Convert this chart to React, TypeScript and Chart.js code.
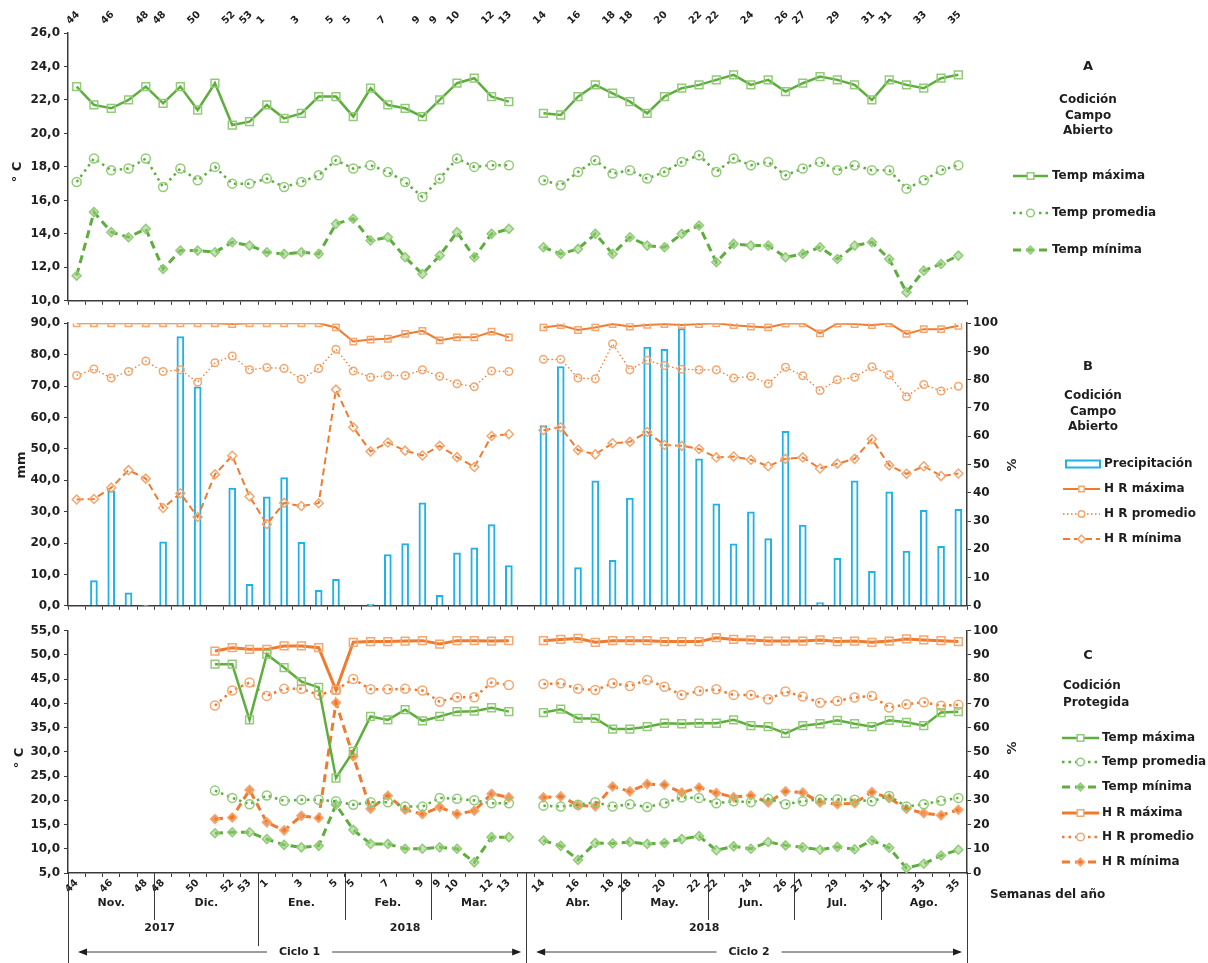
import { useEffect, useRef } from 'react';
import { Chart, registerables } from 'chart.js';

Chart.register(...registerables);

const FONT = "'DejaVu Sans', 'Liberation Sans', Arial, sans-serif";
const INK = '#1e1e1e';
const AXIS = '#3a3a3a';
const GREEN = '#5EAE3E';
const GREEN_MK = '#93CC78';
const ORANGE = '#EF7B2F';
const ORANGE_MK = '#F4A871';
const CYAN = '#1FB2E8';
const CLEAR = 'rgba(255,255,255,0)';

Chart.defaults.font.family = FONT;
Chart.defaults.color = INK;

const PAGE_W = 1208;
const PAGE_H = 963;
const PLOT_LEFT = 68;
const PLOT_RIGHT = 967;

// ---------- time axis ----------
// week number printed under each weekly record (blank = not printed)
const weekTicksCycle1 = ['44', '', '46', '', '48', '48', '', '50', '', '52', '53', '1', '', '3', '', '5', '5', '', '7', '', '9', '9', '10', '', '12', '13'];
const weekTicksCycle2 = ['14', '', '16', '', '18', '18', '', '20', '', '22', '22', '', '24', '', '26', '27', '', '29', '', '31', '31', '', '33', '', '35'];
const weekTicks = [...weekTicksCycle1, '', ...weekTicksCycle2];

// months as ranges of weekly records (index into weekTicks)
const months = [
  { name: 'Nov.', year: 2017, first: 0, last: 4 },
  { name: 'Dic.', year: 2017, first: 5, last: 10 },
  { name: 'Ene.', year: 2018, first: 11, last: 15 },
  { name: 'Feb.', year: 2018, first: 16, last: 20 },
  { name: 'Mar.', year: 2018, first: 21, last: 25 },
  { name: 'Abr.', year: 2018, first: 27, last: 31 },
  { name: 'May.', year: 2018, first: 32, last: 36 },
  { name: 'Jun.', year: 2018, first: 37, last: 41 },
  { name: 'Jul.', year: 2018, first: 42, last: 46 },
  { name: 'Ago.', year: 2018, first: 47, last: 51 },
];
const years = [
  { label: '2017', at: 4.8 },
  { label: '2018', at: 19 },
  { label: '2018', at: 36.3 },
];
const cycles = [
  { label: 'Ciclo 1', first: 0, last: 25 },
  { label: 'Ciclo 2', first: 27, last: 51 },
];

// ---------- A: open field temperature (°C) ----------
const openTmaxC1 = [22.8, 21.7, 21.5, 22.0, 22.8, 21.8, 22.8, 21.4, 23.0, 20.5, 20.7, 21.7, 20.9, 21.2, 22.2, 22.2, 21.0, 22.7, 21.7, 21.5, 21.0, 22.0, 23.0, 23.3, 22.2, 21.9];
const openTmaxC2 = [21.2, 21.1, 22.2, 22.9, 22.4, 21.9, 21.2, 22.2, 22.7, 22.9, 23.2, 23.5, 22.9, 23.2, 22.5, 23.0, 23.4, 23.2, 22.9, 22.0, 23.2, 22.9, 22.7, 23.3, 23.5];
const openTprmC1 = [17.1, 18.5, 17.8, 17.9, 18.5, 16.8, 17.9, 17.2, 18.0, 17.0, 17.0, 17.3, 16.8, 17.1, 17.5, 18.4, 17.9, 18.1, 17.7, 17.1, 16.2, 17.3, 18.5, 18.0, 18.1, 18.1];
const openTprmC2 = [17.2, 16.9, 17.7, 18.4, 17.6, 17.8, 17.3, 17.7, 18.3, 18.7, 17.7, 18.5, 18.1, 18.3, 17.5, 17.9, 18.3, 17.8, 18.1, 17.8, 17.8, 16.7, 17.2, 17.8, 18.1];
const openTminC1 = [11.5, 15.3, 14.1, 13.8, 14.3, 11.9, 13.0, 13.0, 12.9, 13.5, 13.3, 12.9, 12.8, 12.9, 12.8, 14.6, 14.9, 13.6, 13.8, 12.6, 11.6, 12.7, 14.1, 12.6, 14.0, 14.3];
const openTminC2 = [13.2, 12.8, 13.1, 14.0, 12.8, 13.8, 13.3, 13.2, 14.0, 14.5, 12.3, 13.4, 13.3, 13.3, 12.6, 12.8, 13.2, 12.5, 13.3, 13.5, 12.5, 10.5, 11.8, 12.2, 12.7];

// ---------- B: open field rain (mm) and relative humidity (%) ----------
const rainC1 = [0, 8.0, 36.6, 4.1, 0.2, 20.4, 85.7, 69.7, 0, 37.5, 6.8, 34.7, 40.8, 20.2, 4.9, 8.4, 0, 0.5, 16.3, 19.8, 32.8, 3.3, 16.9, 18.5, 25.9, 12.8];
const rainC2 = [57.4, 76.2, 12.2, 39.8, 14.5, 34.3, 82.4, 81.7, 88.3, 46.8, 32.5, 19.7, 29.9, 21.4, 55.6, 25.7, 1.0, 15.1, 39.8, 11.0, 36.3, 17.4, 30.4, 18.9, 30.7];
const openHRmaxC1 = [100, 100, 100, 100, 100, 100, 100, 100, 100, 99.7, 100, 100, 100, 100, 100, 98.5, 93.5, 94.2, 94.5, 96.2, 97.3, 93.9, 95.0, 95.0, 97.0, 95.0];
const openHRmaxC2 = [98.5, 99.3, 97.6, 98.5, 99.7, 98.8, 99.4, 99.7, 99.4, 99.7, 100, 99.3, 98.8, 98.5, 99.9, 100, 96.4, 99.9, 99.7, 99.3, 100, 96.2, 97.9, 97.9, 99.1];
const openHRprmC1 = [81.5, 83.8, 80.6, 82.9, 86.6, 82.9, 83.5, 79.1, 86.0, 88.4, 83.5, 84.3, 84.0, 80.2, 84.0, 90.8, 83.1, 80.9, 81.5, 81.5, 83.5, 81.2, 78.6, 77.5, 83.1, 82.9];
const openHRprmC2 = [87.2, 87.2, 80.6, 80.3, 92.7, 83.5, 86.9, 85.0, 83.7, 83.5, 83.5, 80.6, 81.2, 78.6, 84.4, 81.4, 76.2, 80.0, 80.9, 84.6, 81.7, 74.0, 78.3, 76.0, 77.7];
const openHRminC1 = [37.6, 37.8, 41.8, 48.0, 45.0, 34.6, 39.8, 31.4, 46.5, 53.1, 38.7, 28.9, 36.4, 35.3, 36.3, 76.5, 63.2, 54.6, 57.8, 54.9, 53.2, 56.6, 52.6, 49.1, 60.1, 60.7];
const openHRminC2 = [62.1, 63.2, 55.1, 53.6, 57.5, 58.0, 61.5, 56.9, 56.6, 55.5, 52.5, 52.8, 51.7, 49.4, 52.0, 52.5, 48.6, 50.3, 52.0, 59.0, 49.7, 46.7, 49.4, 45.9, 46.8];

// ---------- C: protected condition, temperature (°C) and relative humidity (%) ----------
const protTmaxC1 = [null, null, null, null, null, null, null, null, 48.1, 48.1, 36.6, 50.1, 47.4, 44.5, 43.3, 24.6, 30.1, 37.3, 36.6, 38.7, 36.4, 37.3, 38.3, 38.4, 39.1, 38.3];
const protTmaxC2 = [38.1, 38.8, 36.9, 36.9, 34.7, 34.7, 35.2, 35.9, 35.8, 35.9, 35.9, 36.6, 35.4, 35.2, 33.8, 35.4, 35.8, 36.5, 35.8, 35.2, 36.5, 36.1, 35.4, 38.1, 38.3];
const protTprmC1 = [null, null, null, null, null, null, null, null, 22.0, 20.5, 19.2, 21.0, 19.9, 20.1, 20.1, 19.8, 19.1, 19.6, 19.6, 18.7, 18.7, 20.5, 20.3, 20.0, 19.4, 19.4];
const protTprmC2 = [18.9, 18.7, 19.1, 19.6, 18.7, 19.2, 18.6, 19.4, 20.6, 20.5, 19.4, 19.8, 19.6, 20.3, 19.2, 19.8, 20.2, 20.2, 20.1, 19.8, 20.9, 18.7, 19.2, 19.9, 20.5];
const protTminC1 = [null, null, null, null, null, null, null, null, 13.2, 13.4, 13.4, 12.0, 10.8, 10.3, 10.6, 19.1, 13.9, 11.0, 11.0, 10.0, 10.0, 10.3, 10.0, 7.2, 12.4, 12.4];
const protTminC2 = [11.7, 10.6, 7.7, 11.2, 11.1, 11.4, 11.0, 11.2, 12.0, 12.6, 9.7, 10.5, 10.0, 11.4, 10.7, 10.3, 9.8, 10.4, 9.9, 11.7, 10.2, 6.0, 6.9, 8.6, 9.8];
const protHRmaxC1 = [null, null, null, null, null, null, null, null, 91.6, 93.0, 92.3, 92.3, 93.7, 93.7, 93.0, 75.5, 95.2, 95.5, 95.5, 95.7, 95.9, 94.5, 95.9, 95.9, 95.7, 95.9];
const protHRmaxC2 = [95.9, 96.4, 96.8, 95.2, 95.9, 95.9, 95.9, 95.5, 95.5, 95.5, 97.1, 96.4, 96.2, 95.7, 95.7, 95.7, 96.2, 95.5, 95.7, 95.2, 95.7, 96.6, 96.2, 95.9, 95.5];
const protHRprmC1 = [null, null, null, null, null, null, null, null, 69.1, 75.3, 78.6, 73.1, 76.0, 76.0, 73.5, 75.5, 80.1, 75.8, 75.8, 76.0, 75.3, 70.7, 72.5, 72.5, 78.6, 77.6];
const protHRprmC2 = [78.0, 78.3, 76.0, 75.5, 78.3, 77.2, 79.7, 76.9, 73.5, 75.1, 75.8, 73.5, 73.5, 71.7, 74.9, 72.8, 70.3, 71.0, 72.4, 73.1, 68.3, 69.6, 70.5, 69.0, 69.4];
const protHRminC1 = [null, null, null, null, null, null, null, null, 22.3, 22.9, 34.3, 20.9, 17.6, 23.6, 22.7, 70.3, 48.1, 26.5, 31.9, 26.1, 24.3, 27.2, 24.3, 25.7, 32.7, 31.2];
const protHRminC2 = [31.2, 31.6, 27.9, 27.5, 35.7, 33.7, 36.7, 36.4, 33.2, 35.3, 33.0, 31.3, 32.0, 29.1, 33.7, 33.2, 29.1, 28.4, 28.8, 33.4, 30.9, 26.5, 24.7, 23.8, 26.1];

// the two cycles are separated by one empty week slot
const joinCycles = (c1: (number | null)[], c2: (number | null)[]) => [...c1, null, ...c2];

// ---------- series styling ----------
type LineStyle = { color: string; mk: string; fill: string; width: number; dash: number[]; marker: string; r: number };

const tmaxStyle: LineStyle = { color: GREEN, mk: GREEN_MK, fill: CLEAR, width: 2.5, dash: [], marker: 'rect', r: 5.5 };
const tprmStyle: LineStyle = { color: GREEN, mk: GREEN_MK, fill: CLEAR, width: 2.5, dash: [2.5, 4], marker: 'circle', r: 4.5 };
const tminStyle: LineStyle = { color: GREEN, mk: GREEN_MK, fill: 'rgba(147,204,120,0.55)', width: 3, dash: [8, 5], marker: 'rectRot', r: 4.5 };
const hrmaxOpen: LineStyle = { color: ORANGE, mk: ORANGE_MK, fill: CLEAR, width: 2, dash: [], marker: 'rect', r: 4.5 };
const hrprmOpen: LineStyle = { color: ORANGE, mk: ORANGE_MK, fill: CLEAR, width: 1.3, dash: [1.5, 2.5], marker: 'circle', r: 3.8 };
const hrminOpen: LineStyle = { color: ORANGE, mk: ORANGE_MK, fill: CLEAR, width: 2, dash: [7, 4], marker: 'rectRot', r: 4.5 };
const hrmaxProt: LineStyle = { color: ORANGE, mk: ORANGE_MK, fill: CLEAR, width: 3, dash: [], marker: 'rect', r: 5.5 };
const hrprmProt: LineStyle = { color: ORANGE, mk: ORANGE_MK, fill: CLEAR, width: 2.5, dash: [2.5, 4], marker: 'circle', r: 4.5 };
const hrminProt: LineStyle = { color: ORANGE, mk: ORANGE_MK, fill: 'rgba(239,123,47,0.8)', width: 3, dash: [8, 5], marker: 'rectRot', r: 4.5 };

function lineSet(label: string, data: (number | null)[], yAxisID: string, s: LineStyle) {
  return {
    type: 'line',
    label,
    data,
    yAxisID,
    order: 0,
    borderColor: s.color,
    borderWidth: s.width,
    borderDash: s.dash,
    borderCapStyle: 'butt',
    pointStyle: s.marker,
    pointRadius: s.r,
    pointHoverRadius: s.r,
    pointBorderColor: s.mk,
    pointBackgroundColor: s.fill,
    pointBorderWidth: 1.5,
    tension: 0,
    spanGaps: false,
    fill: false,
  };
}

// ---------- scales ----------
const decimalComma = (v: number) => v.toFixed(1).replace('.', ',');
const plain = (v: number) => String(v);

function yScale(position: 'left' | 'right', min: number, max: number, step: number, fmt: (v: number) => string, width: number) {
  return {
    type: 'linear',
    position,
    min,
    max,
    ticks: {
      stepSize: step,
      font: { size: 12, weight: 'bold' },
      color: INK,
      padding: position === 'left' ? 4 : 2,
      callback: (v: any) => fmt(Number(v)),
    },
    grid: { display: true, drawOnChartArea: false, drawTicks: true, tickLength: 4, color: AXIS, lineWidth: 1 },
    border: { display: true, color: AXIS, width: 1.5 },
    afterFit: (s: any) => {
      s.width = width;
    },
  };
}

function xScale(height: number, withLabels: boolean) {
  return {
    type: 'category',
    position: 'bottom',
    offset: true,
    grid: { display: true, drawOnChartArea: false, drawTicks: true, tickLength: 4, offset: true, color: AXIS, lineWidth: 1 },
    border: { display: true, color: AXIS, width: 1.5 },
    ticks: withLabels
      ? { autoSkip: false, minRotation: 45, maxRotation: 45, padding: 0, font: { size: 10, weight: 'bold' }, color: INK }
      : { display: false },
    afterFit: (s: any) => {
      s.height = height;
    },
  };
}

const xTopScale = {
  type: 'category',
  position: 'top',
  offset: true,
  labels: weekTicks,
  grid: { display: false, drawTicks: false },
  border: { display: false },
  ticks: { autoSkip: false, minRotation: 45, maxRotation: 45, padding: 6, font: { size: 10, weight: 'bold' }, color: INK },
  afterFit: (s: any) => {
    s.height = 33;
  },
};

// ---------- drawing helpers ----------
function drawMarker(ctx: CanvasRenderingContext2D, style: string, x: number, y: number, r: number, stroke: string, fill: string, lw: number) {
  ctx.beginPath();
  if (style === 'rect') {
    const h = r * Math.SQRT1_2;
    ctx.rect(x - h, y - h, 2 * h, 2 * h);
  } else if (style === 'rectRot') {
    ctx.moveTo(x, y - r);
    ctx.lineTo(x + r, y);
    ctx.lineTo(x, y + r);
    ctx.lineTo(x - r, y);
    ctx.closePath();
  } else {
    ctx.arc(x, y, r, 0, Math.PI * 2);
  }
  ctx.fillStyle = fill;
  ctx.fill();
  ctx.lineWidth = lw;
  ctx.strokeStyle = stroke;
  ctx.stroke();
}

function drawSample(ctx: CanvasRenderingContext2D, ds: any, x1: number, x2: number, y: number) {
  ctx.save();
  if (ds.type === 'bar') {
    ctx.fillStyle = '#ffffff';
    ctx.strokeStyle = ds.borderColor;
    ctx.lineWidth = 2;
    ctx.fillRect(x1 + 3, y - 3.5, x2 - x1 - 3, 7);
    ctx.strokeRect(x1 + 3, y - 3.5, x2 - x1 - 3, 7);
  } else {
    ctx.strokeStyle = ds.borderColor;
    ctx.lineWidth = ds.borderWidth;
    ctx.setLineDash(ds.borderDash || []);
    ctx.beginPath();
    ctx.moveTo(x1, y);
    ctx.lineTo(x2, y);
    ctx.stroke();
    ctx.setLineDash([]);
    drawMarker(ctx, ds.pointStyle, (x1 + x2) / 2, y, ds.pointRadius * 0.85, ds.pointBorderColor, ds.pointBackgroundColor === CLEAR ? '#ffffff' : ds.pointBackgroundColor, 1.5);
  }
  ctx.restore();
}

type Note = { text: string; x: number; y: number; size?: number; align?: CanvasTextAlign; vertical?: boolean };
type LegendSpec = { x1: number; x2: number; textX: number; ys: number[] };

// titles, axis names and a line-sample legend, placed in page coordinates
function decorations(id: string, top: number, notes: Note[], legend: LegendSpec) {
  return {
    id,
    afterDraw(chart: any) {
      const ctx: CanvasRenderingContext2D = chart.ctx;
      ctx.save();
      ctx.textBaseline = 'middle';
      notes.forEach((n) => {
        ctx.fillStyle = INK;
        ctx.font = `bold ${n.size ?? 12}px ${FONT}`;
        ctx.textAlign = n.align ?? 'center';
        if (n.vertical) {
          ctx.save();
          ctx.translate(n.x, n.y - top);
          ctx.rotate(-Math.PI / 2);
          ctx.fillText(n.text, 0, 0);
          ctx.restore();
        } else {
          ctx.fillText(n.text, n.x, n.y - top);
        }
      });
      chart.data.datasets.forEach((ds: any, i: number) => {
        const y = legend.ys[i] - top;
        drawSample(ctx, ds, legend.x1, legend.x2, y);
        ctx.fillStyle = INK;
        ctx.font = `bold 12px ${FONT}`;
        ctx.textAlign = 'left';
        ctx.fillText(ds.label, legend.textX, y);
      });
      ctx.restore();
    },
  };
}

// months, years and cropping cycles under the shared week axis
const calendarPlugin = {
  id: 'calendar',
  afterDraw(chart: any) {
    const ctx: CanvasRenderingContext2D = chart.ctx;
    const { chartArea } = chart;
    const x = chart.scales.x;
    const step = x.getPixelForValue(1) - x.getPixelForValue(0);
    const edge = (i: number) => x.getPixelForValue(i) - step / 2;
    const base = chartArea.bottom;
    const bottom = chart.height;
    ctx.save();
    ctx.strokeStyle = AXIS;
    ctx.lineWidth = 1;
    ctx.fillStyle = INK;
    ctx.textAlign = 'center';
    ctx.textBaseline = 'middle';
    const vline = (px: number, y2: number) => {
      const p = Math.round(px) + 0.5;
      ctx.beginPath();
      ctx.moveTo(p, base);
      ctx.lineTo(p, y2);
      ctx.stroke();
    };

    vline(chartArea.left, bottom);
    vline(chartArea.right, bottom);
    const splits = cycles.slice(1).map((c, k) => (x.getPixelForValue(cycles[k].last) + x.getPixelForValue(c.first)) / 2);
    splits.forEach((px) => vline(px, bottom));

    ctx.font = `bold 11px ${FONT}`;
    months.forEach((m, k) => {
      const left = edge(m.first);
      const right = edge(m.last + 1);
      ctx.fillText(m.name, (left + right) / 2, base + 30);
      const prev = months[k - 1];
      if (prev && prev.last + 1 === m.first) vline(left, prev.year === m.year ? base + 47 : base + 73);
    });

    years.forEach((y) => ctx.fillText(y.label, x.getPixelForValue(y.at), base + 55));

    const bounds = [chartArea.left, ...splits, chartArea.right];
    const yc = base + 79;
    cycles.forEach((c, k) => {
      const a = bounds[k] + 12;
      const b = bounds[k + 1] - 7;
      const mid = (a + b) / 2;
      const half = ctx.measureText(c.label).width / 2 + 12;
      ctx.beginPath();
      ctx.moveTo(a, yc);
      ctx.lineTo(mid - half, yc);
      ctx.moveTo(mid + half, yc);
      ctx.lineTo(b, yc);
      ctx.stroke();
      ctx.beginPath();
      ctx.moveTo(a - 2, yc);
      ctx.lineTo(a + 7, yc - 3.5);
      ctx.lineTo(a + 7, yc + 3.5);
      ctx.closePath();
      ctx.moveTo(b + 2, yc);
      ctx.lineTo(b - 7, yc - 3.5);
      ctx.lineTo(b - 7, yc + 3.5);
      ctx.closePath();
      ctx.fill();
      ctx.fillText(c.label, mid, yc);
    });
    ctx.restore();
  },
};

const baseOptions = {
  responsive: false,
  animation: false,
  devicePixelRatio: 1,
  events: [],
  plugins: { legend: { display: false }, tooltip: { enabled: false } },
};

// panel placement on the page
const A_TOP = 0;
const A_H = 312;
const B_TOP = 312;
const B_H = 305;
const C_TOP = 617;
const C_H = PAGE_H - C_TOP;

function configA(): any {
  return {
    type: 'line',
    data: {
      labels: weekTicks,
      datasets: [
        lineSet('Temp máxima', joinCycles(openTmaxC1, openTmaxC2), 'y', tmaxStyle),
        lineSet('Temp promedia', joinCycles(openTprmC1, openTprmC2), 'y', tprmStyle),
        lineSet('Temp mínima', joinCycles(openTminC1, openTminC2), 'y', tminStyle),
      ],
    },
    options: {
      ...baseOptions,
      layout: { padding: { left: 0, right: PAGE_W - PLOT_RIGHT, top: 0, bottom: 0 } },
      scales: {
        x: xScale(8, false),
        xTop: xTopScale,
        y: yScale('left', 10, 26, 2, decimalComma, PLOT_LEFT),
      },
    },
    plugins: [
      decorations(
        'panelA',
        A_TOP,
        [
          { text: '° C', x: 18, y: 172, size: 13, vertical: true },
          { text: 'A', x: 1088, y: 67, size: 13 },
          { text: 'Codición', x: 1088, y: 100 },
          { text: 'Campo', x: 1088, y: 116 },
          { text: 'Abierto', x: 1088, y: 131 },
        ],
        { x1: 1013, x2: 1048, textX: 1052, ys: [176, 213, 250] }
      ),
    ],
  };
}

function configB(): any {
  return {
    type: 'bar',
    data: {
      labels: weekTicks,
      datasets: [
        {
          type: 'bar',
          label: 'Precipitación',
          data: joinCycles(rainC1, rainC2),
          yAxisID: 'y',
          order: 1,
          backgroundColor: '#ffffff',
          borderColor: CYAN,
          borderWidth: 2,
          borderSkipped: 'bottom',
          barThickness: 7,
        },
        lineSet('H R máxima', joinCycles(openHRmaxC1, openHRmaxC2), 'yR', hrmaxOpen),
        lineSet('H R promedio', joinCycles(openHRprmC1, openHRprmC2), 'yR', hrprmOpen),
        lineSet('H R mínima', joinCycles(openHRminC1, openHRminC2), 'yR', hrminOpen),
      ],
    },
    options: {
      ...baseOptions,
      layout: { padding: { left: 0, right: 0, top: 320.5 - B_TOP, bottom: 0 } },
      scales: {
        x: xScale(8, false),
        y: yScale('left', 0, 90, 10, decimalComma, PLOT_LEFT),
        yR: yScale('right', 0, 100, 10, plain, PAGE_W - PLOT_RIGHT),
      },
    },
    plugins: [
      decorations(
        'panelB',
        B_TOP,
        [
          { text: 'mm', x: 22, y: 465, size: 13, vertical: true },
          { text: '%', x: 1013, y: 465, size: 13, vertical: true },
          { text: 'B', x: 1088, y: 367, size: 13 },
          { text: 'Codición', x: 1093, y: 396 },
          { text: 'Campo', x: 1093, y: 412 },
          { text: 'Abierto', x: 1093, y: 427 },
        ],
        { x1: 1063, x2: 1100, textX: 1104, ys: [464, 489, 514, 539] }
      ),
    ],
  };
}

function configC(): any {
  return {
    type: 'line',
    data: {
      labels: weekTicks,
      datasets: [
        lineSet('Temp máxima', joinCycles(protTmaxC1, protTmaxC2), 'y', tmaxStyle),
        lineSet('Temp promedia', joinCycles(protTprmC1, protTprmC2), 'y', tprmStyle),
        lineSet('Temp mínima', joinCycles(protTminC1, protTminC2), 'y', tminStyle),
        lineSet('H R máxima', joinCycles(protHRmaxC1, protHRmaxC2), 'yR', hrmaxProt),
        lineSet('H R promedio', joinCycles(protHRprmC1, protHRprmC2), 'yR', hrprmProt),
        lineSet('H R mínima', joinCycles(protHRminC1, protHRminC2), 'yR', hrminProt),
      ],
    },
    options: {
      ...baseOptions,
      layout: { padding: { left: 0, right: 0, top: 630.7 - C_TOP, bottom: 0 } },
      scales: {
        x: xScale(PAGE_H - 873, true),
        y: yScale('left', 5, 55, 5, decimalComma, PLOT_LEFT),
        yR: yScale('right', 0, 100, 10, plain, PAGE_W - PLOT_RIGHT),
      },
    },
    plugins: [
      calendarPlugin,
      decorations(
        'panelC',
        C_TOP,
        [
          { text: '° C', x: 20, y: 758, size: 13, vertical: true },
          { text: '%', x: 1013, y: 748, size: 13, vertical: true },
          { text: 'C', x: 1088, y: 656, size: 13 },
          { text: 'Codición', x: 1063, y: 686, align: 'left' },
          { text: 'Protegida', x: 1063, y: 703, align: 'left' },
          { text: 'Semanas del año', x: 990, y: 895, align: 'left' },
        ],
        { x1: 1062, x2: 1099, textX: 1102, ys: [738, 762, 787, 813, 837, 862] }
      ),
    ],
  };
}

export default function App() {
  const refA = useRef<HTMLCanvasElement>(null);
  const refB = useRef<HTMLCanvasElement>(null);
  const refC = useRef<HTMLCanvasElement>(null);

  useEffect(() => {
    document.body.style.margin = '0';
    const charts = [
      new Chart(refA.current as HTMLCanvasElement, configA()),
      new Chart(refB.current as HTMLCanvasElement, configB()),
      new Chart(refC.current as HTMLCanvasElement, configC()),
    ];
    return () => charts.forEach((c) => c.destroy());
  }, []);

  const canvasStyle = (top: number, h: number) => ({ position: 'absolute' as const, left: 0, top, width: PAGE_W, height: h });

  return (
    <div style={{ position: 'relative', width: PAGE_W, height: PAGE_H, overflow: 'hidden', background: '#ffffff' }}>
      <canvas ref={refA} width={PAGE_W} height={A_H} style={canvasStyle(A_TOP, A_H)} />
      <canvas ref={refB} width={PAGE_W} height={B_H} style={canvasStyle(B_TOP, B_H)} />
      <canvas ref={refC} width={PAGE_W} height={C_H} style={canvasStyle(C_TOP, C_H)} />
    </div>
  );
}
